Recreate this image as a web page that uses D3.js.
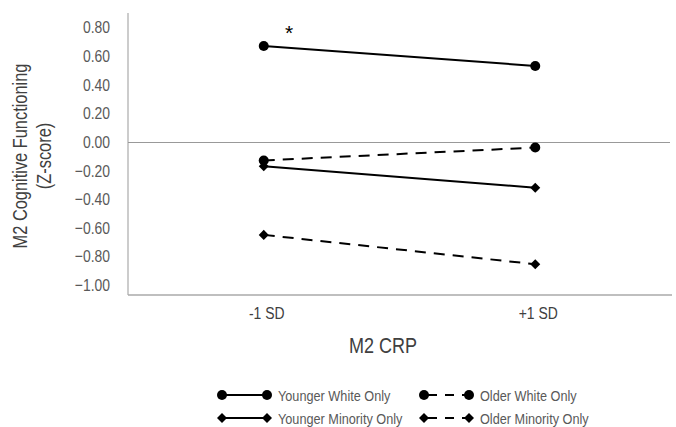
<!DOCTYPE html>
<html>
<head>
<meta charset="utf-8">
<script src="https://cdn.jsdelivr.net/npm/d3@7"></script>
<style>
  body { margin: 0; background: #fff; }
  svg { font-family: "Liberation Sans", Arial, sans-serif; }
</style>
</head>
<body>
<div id="chart"></div>
<script>
// chart data
var categories = ["-1 SD", "+1 SD"];
var seriesNames = ["Younger White Only", "Older White Only", "Younger Minority Only", "Older Minority Only"];
var youngerWhite = [0.67, 0.53];
var olderWhite = [-0.13, -0.04];
var youngerMinority = [-0.17, -0.32];
var olderMinority = [-0.65, -0.855];
var yTicks = [0.8, 0.6, 0.4, 0.2, 0, -0.2, -0.4, -0.6, -0.8, -1.0];

var series = [
    {name: seriesNames[0], values: youngerWhite, dashed: false, shape: "circle"},
    {name: seriesNames[1], values: olderWhite, dashed: true, shape: "circle"},
    {name: seriesNames[2], values: youngerMinority, dashed: false, shape: "diamond"},
    {name: seriesNames[3], values: olderMinority, dashed: true, shape: "diamond"}
];

var width = 676, height = 427;
var plot = {left: 128, right: 671, top: 13, bottom: 295};
// the reference uses a narrow face; squeeze Liberation Sans horizontally
var narrow = 0.82;

var svg = d3.select("#chart").append("svg")
    .attr("width", width)
    .attr("height", height);

var x = d3.scaleBand().domain(categories).range([plot.left, plot.right]);
var y = d3.scaleLinear().domain([-1.07, 0.9]).range([plot.bottom, plot.top]);

// axes lines
svg.append("line")
    .attr("x1", plot.left).attr("x2", plot.left)
    .attr("y1", plot.top).attr("y2", plot.bottom)
    .attr("stroke", "#999").attr("stroke-width", 1);
svg.append("line")
    .attr("x1", plot.left).attr("x2", plot.right - 1)
    .attr("y1", Math.round(y(0)) + 0.5).attr("y2", Math.round(y(0)) + 0.5)
    .attr("stroke", "#999").attr("stroke-width", 1);
svg.append("line")
    .attr("x1", plot.left).attr("x2", plot.right + 1)
    .attr("y1", plot.bottom).attr("y2", plot.bottom)
    .attr("stroke", "#aaa").attr("stroke-width", 1.5);

// y tick labels
svg.append("g").selectAll("text").data(yTicks).enter().append("text")
    .attr("transform", function (d) { return "translate(110," + y(d) + ") scale(" + narrow + ",1)"; })
    .attr("dy", "0.36em")
    .attr("text-anchor", "end")
    .attr("font-size", 17)
    .attr("fill", "#595959")
    .text(function (d) { return d3.format(".2f")(d); });

// x tick labels
svg.append("g").selectAll("text").data(categories).enter().append("text")
    .attr("transform", function (d) { return "translate(" + (x(d) + x.bandwidth() / 2 + 3) + ",319) scale(" + narrow + ",1)"; })
    .attr("text-anchor", "middle")
    .attr("font-size", 17)
    .attr("fill", "#404040")
    .text(function (d) { return d; });

// axis titles
svg.append("text")
    .attr("transform", "translate(383,353) scale(" + narrow + ",1)")
    .attr("text-anchor", "middle")
    .attr("font-size", 22)
    .attr("fill", "#404040")
    .text("M2 CRP");
var yTitle = svg.append("text")
    .attr("transform", "translate(27,156) rotate(-90) scale(" + narrow + ",1)")
    .attr("text-anchor", "middle")
    .attr("font-size", 20)
    .attr("fill", "#404040");
yTitle.append("tspan").attr("x", 0).attr("dy", 0).text("M2 Cognitive Functioning");
yTitle.append("tspan").attr("x", 0).attr("dy", 24).text("(Z-score)");

var cx = function (i) { return x(categories[i]) + x.bandwidth() / 2; };
var line = d3.line()
    .x(function (d, i) { return cx(i); })
    .y(function (d) { return y(d); });

function marker(sel, shape) {
    if (shape === "circle") {
        sel.append("circle").attr("r", 5).attr("fill", "#000");
    } else {
        sel.append("path").attr("d", d3.symbol().type(d3.symbolDiamond2).size(64)).attr("fill", "#000");
    }
}

var groups = svg.append("g").selectAll("g").data(series).enter().append("g");
groups.append("path")
    .attr("d", function (d) { return line(d.values); })
    .attr("fill", "none")
    .attr("stroke", "#000")
    .attr("stroke-width", 2)
    .attr("stroke-dasharray", function (d) { return d.dashed ? "11,8" : null; });
groups.each(function (s) {
    var g = d3.select(this);
    s.values.forEach(function (v, i) {
        var m = g.append("g").attr("transform", "translate(" + cx(i) + "," + y(v) + ")");
        marker(m, s.shape);
    });
});

// significance marker
svg.append("text")
    .attr("x", 289).attr("y", 40)
    .attr("text-anchor", "middle")
    .attr("font-size", 21)
    .attr("fill", "#000")
    .text("*");

// legend
var legendPos = [[222, 395], [424, 395], [222, 418], [424, 418]];
var legendItems = svg.append("g").selectAll("g").data(series).enter().append("g")
    .attr("transform", function (d, i) { return "translate(" + legendPos[i][0] + "," + legendPos[i][1] + ")"; });
legendItems.append("line")
    .attr("x1", 0).attr("x2", 45)
    .attr("stroke", "#000").attr("stroke-width", 2)
    .attr("stroke-dasharray", function (d) { return d.dashed ? "9,8" : null; })
    .attr("stroke-dashoffset", function (d) { return d.dashed ? -4 : 0; });
legendItems.each(function (s) {
    var g = d3.select(this);
    [0, 45].forEach(function (px) {
        marker(g.append("g").attr("transform", "translate(" + px + ",0)"), s.shape);
    });
});
legendItems.append("text")
    .attr("transform", "translate(56,0) scale(" + narrow + ",1)")
    .attr("dy", "0.36em")
    .attr("font-size", 15.5)
    .attr("fill", "#595959")
    .text(function (d) { return d.name; });
</script>
</body>
</html>
